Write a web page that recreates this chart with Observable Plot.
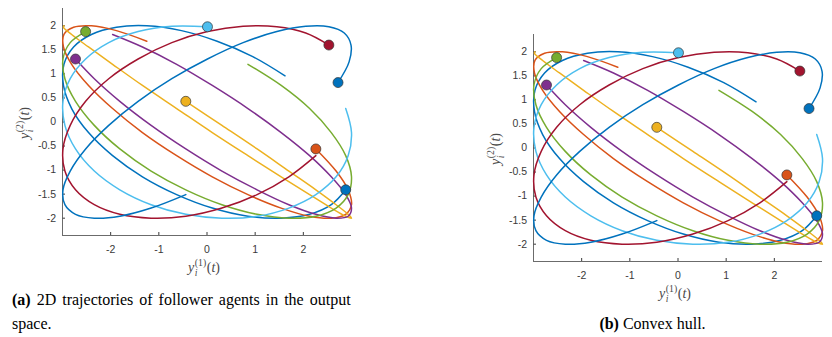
<!DOCTYPE html>
<html>
<head>
<meta charset="utf-8">
<script src="https://cdn.jsdelivr.net/npm/d3@7"></script>
<script src="https://cdn.jsdelivr.net/npm/@observablehq/plot@0.6"></script>
<style>
  body { margin: 0; background: #fff; }
  #root { position: relative; width: 832px; height: 337px; overflow: hidden; background: #fff; }
  .panel { position: absolute; }
  #overlay { position: absolute; left: 0; top: 0; pointer-events: none; }
</style>
</head>
<body>
<div id="root">
  <div id="panelA" class="panel" style="left:0px;top:0px"></div>
  <div id="panelB" class="panel" style="left:471px;top:26px"></div>
</div>
<script>
// ---- axis settings ----
const xLimits = [-3, 3];
const yLimits = [-2.36, 2.36];
const xTicks = [-2, -1, 0, 1, 2];
const yTicks = [-2, -1.5, -1, -0.5, 0, 0.5, 1, 1.5, 2];

// ---- agents (MATLAB default colour order) ----
const agentColors = ["#0072BD", "#D95319", "#EDB120", "#7E2F8E", "#77AC30", "#4DBEEE", "#A2142F", "#0072BD"];

// trajectories [y1, y2]; last point = marker position
const agent1 = [[1.62,0.96],[0.95,1.36],[0.21,1.68],[-0.53,1.90],[-1.25,2.00],[-1.88,1.97],[-2.40,1.82],[-2.77,1.56],[-2.97,1.20],[-2.98,0.76],[-2.81,0.28],[-2.46,-0.22],[-1.96,-0.70],[-1.34,-1.14],[-0.63,-1.51],[0.11,-1.79],[0.85,-1.96],[1.54,-2.00],[2.13,-1.92],[2.58,-1.72],[2.88,-1.41]];
const agent2 = [[-1.25,1.68],[-1.88,1.90],[-2.40,2.00],[-2.77,1.97],[-2.97,1.82],[-2.98,1.56],[-2.81,1.20],[-2.46,0.76],[-1.96,0.28],[-1.34,-0.22],[-0.63,-0.70],[0.11,-1.14],[0.85,-1.51],[1.54,-1.79],[2.13,-1.96],[2.58,-2.00],[2.88,-1.92],[3.00,-1.72],[2.93,-1.41],[2.68,-1.02],[2.26,-0.56]];
const agent3 = [[-2.97,2.00],[-2.98,1.97],[-2.81,1.82],[-2.46,1.56],[-1.96,1.20],[-1.34,0.76],[-0.63,0.28],[0.11,-0.22],[0.85,-0.70],[1.54,-1.14],[2.13,-1.51],[2.58,-1.79],[2.88,-1.96],[3.00,-2.00],[2.93,-1.92],[2.68,-1.72],[2.26,-1.41],[1.70,-1.02],[1.04,-0.56],[0.31,-0.07],[-0.44,0.43]];
const agent4 = [[-1.96,1.82],[-1.34,1.56],[-0.63,1.20],[0.11,0.76],[0.85,0.28],[1.54,-0.22],[2.13,-0.70],[2.58,-1.14],[2.88,-1.51],[3.00,-1.79],[2.93,-1.96],[2.68,-2.00],[2.26,-1.92],[1.70,-1.72],[1.04,-1.41],[0.31,-1.02],[-0.44,-0.56],[-1.16,-0.07],[-1.81,0.43],[-2.34,0.90],[-2.73,1.31]];
const agent5 = [[0.85,1.20],[1.54,0.76],[2.13,0.28],[2.58,-0.22],[2.88,-0.70],[3.00,-1.14],[2.93,-1.51],[2.68,-1.79],[2.26,-1.96],[1.70,-2.00],[1.04,-1.92],[0.31,-1.72],[-0.44,-1.41],[-1.16,-1.02],[-1.81,-0.56],[-2.34,-0.07],[-2.73,0.43],[-2.95,0.90],[-2.99,1.31],[-2.84,1.65],[-2.52,1.88]];
const agent6 = [[2.88,0.28],[3.00,-0.22],[2.93,-0.70],[2.68,-1.14],[2.26,-1.51],[1.70,-1.79],[1.04,-1.96],[0.31,-2.00],[-0.44,-1.92],[-1.16,-1.72],[-1.81,-1.41],[-2.34,-1.02],[-2.73,-0.56],[-2.95,-0.07],[-2.99,0.43],[-2.84,0.90],[-2.52,1.31],[-2.04,1.65],[-1.43,1.88],[-0.73,1.99],[0.01,1.98]];
const agent7 = [[2.26,-0.70],[1.70,-1.14],[1.04,-1.51],[0.31,-1.79],[-0.44,-1.96],[-1.16,-2.00],[-1.81,-1.92],[-2.34,-1.72],[-2.73,-1.41],[-2.95,-1.02],[-2.99,-0.56],[-2.84,-0.07],[-2.52,0.43],[-2.04,0.90],[-1.43,1.31],[-0.73,1.65],[0.01,1.88],[0.75,1.99],[1.45,1.98],[2.05,1.85],[2.53,1.60]];
const agent8 = [[-0.44,-1.51],[-1.16,-1.79],[-1.81,-1.96],[-2.34,-2.00],[-2.73,-1.92],[-2.95,-1.72],[-2.99,-1.41],[-2.84,-1.02],[-2.52,-0.56],[-2.04,-0.07],[-1.43,0.43],[-0.73,0.90],[0.01,1.31],[0.75,1.65],[1.45,1.88],[2.05,1.99],[2.53,1.98],[2.85,1.85],[2.99,1.60],[2.95,1.25],[2.72,0.82]];
const agentPaths = [agent1, agent2, agent3, agent4, agent5, agent6, agent7, agent8];

const captionA1 = ["(a)", " 2D trajectories of follower agents in the output"];
const captionA2 = "space.";
const captionB = ["(b)", " Convex hull."];

// ---- build tables for Plot ----
const rows = agentPaths.flatMap((p, i) => p.map(([x, y], k) => ({agent: i, k, x, y})));
const finals = agentPaths.map((p, i) => ({agent: i, x: p[p.length - 1][0], y: p[p.length - 1][1]}));
const fmt = d => String(d);
const axisColor = "#5a5a5a";

function panel() {
  return Plot.plot({
    width: 360,
    height: 275,
    marginLeft: 62,
    marginRight: 9,
    marginTop: 8,
    marginBottom: 40,
    x: {domain: xLimits, label: null},
    y: {domain: yLimits, label: null},
    style: {background: "transparent", fontFamily: "'Liberation Sans', Arial, sans-serif", fontSize: "10.5px", color: "#3a3a3a", overflow: "visible"},
    marks: [
      Plot.axisX(xTicks, {anchor: "bottom", tickSize: 3, dy: -3, tickPadding: 10.5, tickFormat: fmt, label: null}),
      Plot.axisY(yTicks, {anchor: "left", tickSize: 3, dx: 3, tickPadding: 6.5, tickFormat: fmt, label: null}),
      Plot.ruleX([xLimits[0]], {stroke: axisColor, strokeWidth: 0.9}),
      Plot.ruleY([yLimits[0]], {stroke: axisColor, strokeWidth: 0.9}),
      Plot.line(rows, {x: "x", y: "y", z: "agent", stroke: d => agentColors[d.agent], strokeWidth: 1.5, curve: "catmull-rom"}),
      Plot.dot(finals, {x: "x", y: "y", r: 5, fill: d => agentColors[d.agent], stroke: "#333", strokeWidth: 0.7})
    ]
  });
}

document.getElementById("panelA").appendChild(panel());
document.getElementById("panelB").appendChild(panel());

// ---- math labels and captions ----
function mathLabel(sup) {
  return `<tspan font-style="italic">y</tspan>` +
    `<tspan font-size="9.8" dy="-6" dx="0.6">(${sup})</tspan>` +
    `<tspan font-size="9.8" font-style="italic" dx="-11.4" dy="9.8">i</tspan>` +
    `<tspan dx="9.2" dy="-3.8">(</tspan><tspan font-style="italic">t</tspan><tspan>)</tspan>`;
}
function axesLabels(ox, oy) {
  return `<text x="${ox + 188}" y="${oy + 272}" font-size="14" fill="#4a4a4a">${mathLabel(1)}</text>` +
    `<text transform="translate(${ox + 29},${oy + 139}) rotate(-90)" font-size="14" fill="#4a4a4a">${mathLabel(2)}</text>`;
}
const svgNS = "http://www.w3.org/2000/svg";
const overlay = document.createElementNS(svgNS, "svg");
overlay.setAttribute("id", "overlay");
overlay.setAttribute("width", 832);
overlay.setAttribute("height", 337);
overlay.setAttribute("font-family", "'Liberation Serif', 'Times New Roman', serif");
overlay.innerHTML =
  axesLabels(0, 0) + axesLabels(471, 26) +
  `<text x="12" y="304.5" font-size="16" word-spacing="2" fill="#000"><tspan font-weight="bold">${captionA1[0]}</tspan>${captionA1[1]}</text>` +
  `<text x="12" y="329" font-size="16" fill="#000">${captionA2}</text>` +
  `<text x="652.5" y="329" font-size="16" fill="#000" text-anchor="middle"><tspan font-weight="bold">${captionB[0]}</tspan>${captionB[1]}</text>`;
document.getElementById("root").appendChild(overlay);
</script>
</body>
</html>
